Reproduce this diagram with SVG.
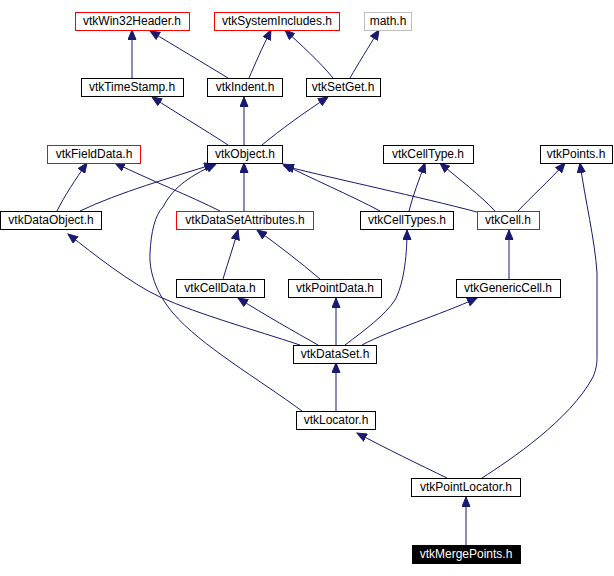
<svg xmlns="http://www.w3.org/2000/svg" width="614" height="576" viewBox="0 0 614 576">
<style>
  .n rect { fill: #ffffff; stroke: #000000; stroke-width: 1; }
  .n.red rect { stroke: #ff0000; }
  .n.gray rect { stroke: #bfbfbf; }
  .n.cur rect { fill: #000000; stroke: #000000; }
  .n text { font-family: "Liberation Sans", Arial, sans-serif; font-size: 12px; text-anchor: middle; fill: #000000; }
  .n.cur text { fill: #ffffff; }
  .e path { fill: none; stroke: #191970; stroke-width: 1; marker-end: url(#arr); }
</style>
<defs>
  <marker id="arr" markerUnits="userSpaceOnUse" markerWidth="11" markerHeight="9" refX="10" refY="4.5" orient="auto" viewBox="0 0 11 9">
    <path d="M0.5,0.5 L10,4.5 L0.5,8.5 z" fill="#191970" stroke="#191970" stroke-width="1"/>
  </marker>
</defs>
<rect width="614" height="576" fill="#ffffff"/>
<g id="edges" class="e">
  <path d="M132,78 L132,30"/>
  <path d="M228,78 C205,64 175,46 150,31"/>
  <path d="M249,78 C255,64 262,48 271,30"/>
  <path d="M333,78 C320,62 300,44 285,30"/>
  <path d="M350,78 C358,64 368,48 379,30"/>
  <path d="M228,145 C205,130 175,112 152,97"/>
  <path d="M244,145 L244,97"/>
  <path d="M262,145 C280,130 305,112 328,97"/>
  <path d="M57,211 C65,195 75,180 87,163"/>
  <path d="M80,211 C120,192 170,178 214,164"/>
  <path d="M220,211 C190,196 150,180 115,163"/>
  <path d="M244,211 L244,163"/>
  <path d="M380,211 C350,195 310,178 283,164"/>
  <path d="M477,212 C420,197 340,180 284,166"/>
  <path d="M409,211 C413,195 419,180 425,163"/>
  <path d="M495,211 C480,195 460,180 440,163"/>
  <path d="M518,211 C530,198 550,180 565,163"/>
  <path d="M482,478 C510,460 570,420 593,377 C597,368 597,360 597,357 L597,273 C595,240 585,200 580,163"/>
  <path d="M223,279 C228,262 233,248 238,230"/>
  <path d="M320,279 C300,262 278,245 257,230"/>
  <path d="M509,279 L509,230"/>
  <path d="M300,345 C255,330 200,315 160,297 C130,283 95,255 68,234"/>
  <path d="M318,345 C295,332 265,315 238,298"/>
  <path d="M336,345 L336,298"/>
  <path d="M345,345 C365,330 385,315 395,300 C403,285 407,260 407,230"/>
  <path d="M362,345 C390,330 440,315 477,298"/>
  <path d="M336,411 L336,363"/>
  <path d="M302,411 C260,380 200,345 173,313 C155,292 149,270 150,253 C151,232 155,215 163,207 C172,190 185,178 216,164"/>
  <path d="M447,478 C420,465 385,448 357,433"/>
  <path d="M466,545 L466,497"/>
</g>
<g id="vtkWin32Header" class="n red"><rect x="75.5" y="12.5" width="114" height="18"/><text x="132" y="25">vtkWin32Header.h</text></g>
<g id="vtkSystemIncludes" class="n red"><rect x="214.5" y="12.5" width="125" height="18"/><text x="277" y="25">vtkSystemIncludes.h</text></g>
<g id="math" class="n gray"><rect x="364.5" y="12.5" width="47" height="18"/><text x="388" y="25">math.h</text></g>
<g id="vtkTimeStamp" class="n"><rect x="81.5" y="78.5" width="102" height="18"/><text x="132" y="91">vtkTimeStamp.h</text></g>
<g id="vtkIndent" class="n"><rect x="207.5" y="78.5" width="75" height="18"/><text x="245" y="91">vtkIndent.h</text></g>
<g id="vtkSetGet" class="n"><rect x="306.5" y="78.5" width="74" height="18"/><text x="343" y="91">vtkSetGet.h</text></g>
<g id="vtkFieldData" class="n red"><rect x="47.5" y="145.5" width="93" height="18"/><text x="94" y="158">vtkFieldData.h</text></g>
<g id="vtkObject" class="n"><rect x="207.5" y="145.5" width="75" height="18"/><text x="245" y="158">vtkObject.h</text></g>
<g id="vtkCellType" class="n"><rect x="383.5" y="145.5" width="90" height="18"/><text x="428" y="158">vtkCellType.h</text></g>
<g id="vtkPoints" class="n"><rect x="540.5" y="145.5" width="72" height="18"/><text x="576" y="158">vtkPoints.h</text></g>
<g id="vtkDataObject" class="n"><rect x="0.5" y="211.5" width="101" height="18"/><text x="51" y="224">vtkDataObject.h</text></g>
<g id="vtkDataSetAttributes" class="n red"><rect x="176.5" y="211.5" width="137" height="18"/><text x="245" y="224">vtkDataSetAttributes.h</text></g>
<g id="vtkCellTypes" class="n"><rect x="360.5" y="211.5" width="93" height="18"/><text x="407" y="224">vtkCellTypes.h</text></g>
<g id="vtkCell" class="n red"><rect x="477.5" y="211.5" width="62" height="18"/><text x="508" y="224">vtkCell.h</text></g>
<g id="vtkCellData" class="n"><rect x="176.5" y="279.5" width="88" height="18"/><text x="220" y="292">vtkCellData.h</text></g>
<g id="vtkPointData" class="n"><rect x="288.5" y="279.5" width="93" height="18"/><text x="335" y="292">vtkPointData.h</text></g>
<g id="vtkGenericCell" class="n"><rect x="456.5" y="279.5" width="104" height="18"/><text x="508" y="292">vtkGenericCell.h</text></g>
<g id="vtkDataSet" class="n"><rect x="293.5" y="345.5" width="83" height="18"/><text x="335" y="358">vtkDataSet.h</text></g>
<g id="vtkLocator" class="n"><rect x="296.5" y="411.5" width="79" height="18"/><text x="336" y="424">vtkLocator.h</text></g>
<g id="vtkPointLocator" class="n"><rect x="411.5" y="478.5" width="109" height="18"/><text x="466" y="491">vtkPointLocator.h</text></g>
<g id="vtkMergePoints" class="n cur"><rect x="412.5" y="545.5" width="108" height="18"/><text x="466" y="558">vtkMergePoints.h</text></g>
</svg>
